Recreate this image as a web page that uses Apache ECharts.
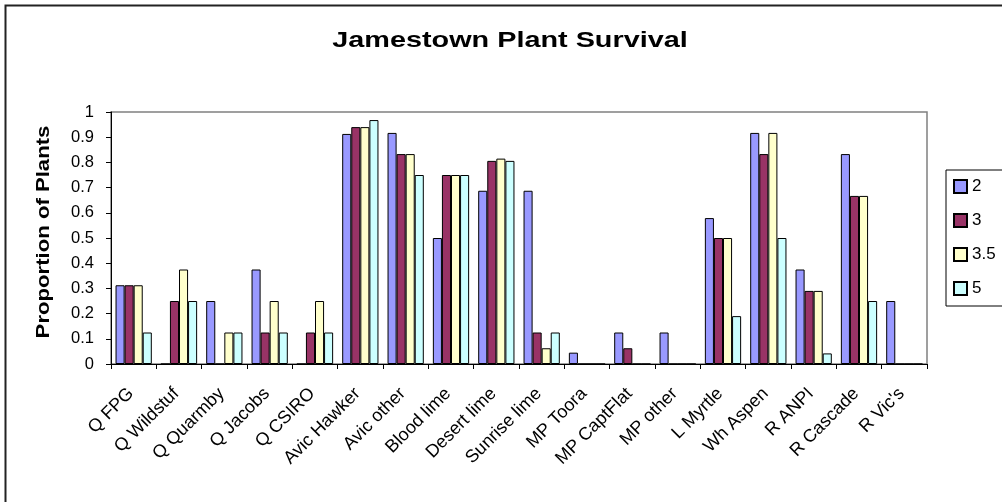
<!DOCTYPE html>
<html>
<head>
<meta charset="utf-8">
<script src="https://cdn.jsdelivr.net/npm/echarts@6/dist/echarts.min.js"></script>
<style>
html,body{margin:0;padding:0;background:#fff;}
#chart{width:1002px;height:502px;}
</style>
</head>
<body>
<div id="chart"></div>
<script>
const categories = ["Q FPG","Q Wildstuf","Q Quarmby","Q Jacobs","Q CSIRO","Avic Hawker","Avic other","Blood lime","Desert lime","Sunrise lime","MP Toora","MP CaptFlat","MP other","L Myrtle","Wh Aspen","R ANPI","R Cascade","R Vic's"];
const seriesNames = ["2","3","3.5","5"];
const s2   = [0.3125,0,0.25,0.375,0,0.913,0.917,0.5,0.6875,0.6875,0.045,0.125,0.125,0.579,0.917,0.375,0.833,0.25];
const s3   = [0.3125,0.25,0,0.125,0.125,0.94,0.833,0.75,0.806,0.125,0,0.0625,0,0.5,0.833,0.29,0.667,0];
const s3_5 = [0.3125,0.375,0.125,0.25,0.25,0.94,0.833,0.75,0.815,0.0625,0,0,0,0.5,0.917,0.29,0.667,0];
const s5   = [0.125,0.25,0.125,0.125,0.125,0.968,0.75,0.75,0.806,0.125,0,0,0,0.19,0.5,0.042,0.25,0];
const yTicks = [0,0.1,0.2,0.3,0.4,0.5,0.6,0.7,0.8,0.9,1];
const titleText = 'Jamestown Plant Survival';
const yAxisTitle = 'Proportion of Plants';

const colors = ["#9999FF","#993366","#FFFFCC","#CCFFFF"];
const allData = [s2, s3, s3_5, s5];
const font = "Liberation Sans, Arial, sans-serif";

const chart = echarts.init(document.getElementById('chart'), null, {renderer:'canvas'});
chart.setOption({
  backgroundColor:'#fff',
  animation:false,
  legend:{
    orient:'vertical',
    left:946, top:170,
    data:seriesNames,
    itemWidth:13, itemHeight:13, itemGap:17,
    padding:[8,40,9,7],
    borderColor:'#000', borderWidth:1,
    icon:'rect',
    textStyle:{fontFamily:font, fontSize:17, lineHeight:17, color:'#000'}
  },
  graphic:[
    {
      type:'rect', silent:true,
      shape:{x:5.5,y:5.5,width:1010,height:510},
      style:{fill:'none', stroke:'#222', lineWidth:2}
    },
    {
      type:'text', silent:true, x:510, y:41, scaleX:1.31,
      style:{text:titleText, x:0, y:0, align:'center', verticalAlign:'middle',
        font:'bold 22px ' + font, fill:'#000'}
    },
    {
      type:'text', silent:true, x:44, y:232, rotation:Math.PI/2, scaleX:1.23,
      style:{text:yAxisTitle, x:0, y:0, align:'center', verticalAlign:'middle',
        font:'bold 18px ' + font, fill:'#000'}
    }
  ],
  grid:{
    left:111, right:75, top:112, bottom:138,
    show:true, borderColor:'#808080', borderWidth:1.5, backgroundColor:'#fff'
  },
  xAxis:{
    type:'category',
    data:categories,
    axisLine:{lineStyle:{color:'#000', width:1}},
    axisTick:{show:true, alignWithLabel:false, length:5, lineStyle:{color:'#000'}},
    axisLabel:{rotate:45, interval:0, margin:24, padding:[0,4,0,0], fontFamily:font, fontSize:18, color:'#000'}
  },
  yAxis:{
    type:'value', min:0, max:1, interval:0.1,
    axisLine:{show:true, lineStyle:{color:'#000', width:1}},
    axisTick:{show:true, length:5, lineStyle:{color:'#000'}},
    splitLine:{show:false},
    axisLabel:{margin:17, fontFamily:font, fontSize:16.5, color:'#000',
      formatter:function(v){ const t = yTicks.find(x=>Math.abs(x-v)<1e-9); return t===undefined? '' : String(t); }}
  },
  series: seriesNames.map((n,i)=>({
    name:n, type:'bar',
    data:allData[i],
    barGap:'0%', barCategoryGap:'20%',
    itemStyle:{color:colors[i], borderColor:'#000', borderWidth:1}
  }))
});
</script>
</body>
</html>
